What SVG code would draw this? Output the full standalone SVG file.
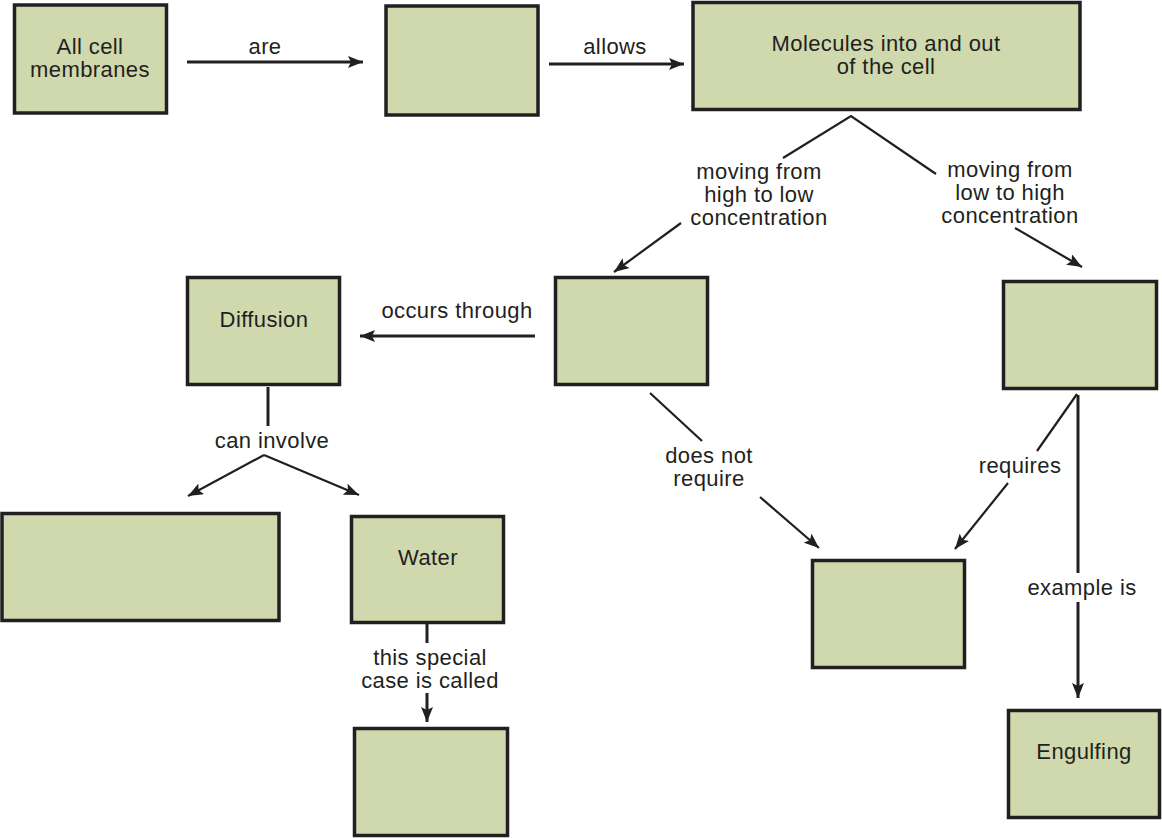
<svg xmlns="http://www.w3.org/2000/svg" width="1162" height="838" viewBox="0 0 1162 838">
<defs>
<style>
.box{fill:#d0d9ad;stroke:#231f20;stroke-width:3.5}
.t{font-family:"Liberation Sans",Arial,sans-serif;font-size:22px;letter-spacing:0.4px;fill:#231f20;text-anchor:middle}
.c{stroke:#231f20;stroke-width:2.2;fill:none}
.c3{stroke:#231f20;stroke-width:3;fill:none}
</style>
<marker id="ah" markerUnits="userSpaceOnUse" markerWidth="16" markerHeight="12" refX="15" refY="6" orient="auto">
<path d="M0,0 L15,6 L0,12 L3,6 z" fill="#231f20"/>
</marker>
</defs>
<rect width="1162" height="838" fill="#fff"/>
<g id="connectors">
<line class="c3" x1="187" y1="62" x2="363" y2="62" marker-end="url(#ah)"/>
<line class="c3" x1="549" y1="64" x2="684" y2="64" marker-end="url(#ah)"/>
<polyline class="c" points="783,158 851,116 936,174"/>
<line class="c" x1="681" y1="223" x2="614" y2="272" marker-end="url(#ah)"/>
<line class="c" x1="1015" y1="228" x2="1082" y2="267" marker-end="url(#ah)"/>
<line class="c3" x1="535" y1="336" x2="360" y2="336" marker-end="url(#ah)"/>
<line class="c3" x1="268" y1="387" x2="268" y2="426"/>
<line class="c" x1="264" y1="455" x2="188" y2="496" marker-end="url(#ah)"/>
<line class="c" x1="264" y1="455" x2="359" y2="495" marker-end="url(#ah)"/>
<line class="c3" x1="427" y1="622" x2="427" y2="643"/>
<line class="c3" x1="427" y1="693" x2="427" y2="722" marker-end="url(#ah)"/>
<line class="c" x1="650" y1="393" x2="702" y2="441"/>
<line class="c" x1="760" y1="497" x2="819" y2="548" marker-end="url(#ah)"/>
<line class="c" x1="1077" y1="394" x2="1037" y2="451"/>
<line class="c" x1="1008" y1="483" x2="955" y2="549" marker-end="url(#ah)"/>
<line class="c3" x1="1078" y1="395" x2="1078" y2="573"/>
<line class="c3" x1="1078" y1="602" x2="1078" y2="698" marker-end="url(#ah)"/>
</g>
<g id="labels">
<text class="t" x="265" y="54">are</text>
<text class="t" x="615" y="54">allows</text>
<text class="t" x="759" y="179">moving from</text>
<text class="t" x="759" y="202">high to low</text>
<text class="t" x="759" y="225">concentration</text>
<text class="t" x="1010" y="177">moving from</text>
<text class="t" x="1010" y="200">low to high</text>
<text class="t" x="1010" y="223">concentration</text>
<text class="t" x="457" y="318">occurs through</text>
<text class="t" x="272" y="448">can involve</text>
<text class="t" x="430" y="665">this special</text>
<text class="t" x="430" y="688">case is called</text>
<text class="t" x="709" y="463">does not</text>
<text class="t" x="709" y="486">require</text>
<text class="t" x="1020" y="473">requires</text>
<text class="t" x="1082" y="595">example is</text>
</g>
<g id="n-all-cell-membranes">
<rect class="box" x="14.5" y="5" width="152" height="108"/>
<text class="t" x="90" y="54">All cell</text>
<text class="t" x="90" y="77">membranes</text>
</g>
<g id="n-blank1">
<rect class="box" x="386" y="6" width="152" height="109"/>
</g>
<g id="n-molecules">
<rect class="box" x="693" y="2.5" width="387" height="107"/>
<text class="t" x="886" y="51">Molecules into and out</text>
<text class="t" x="886" y="74">of the cell</text>
</g>
<g id="n-blank-passive">
<rect class="box" x="555.5" y="277.5" width="152" height="107"/>
</g>
<g id="n-blank-active">
<rect class="box" x="1003.5" y="281.5" width="153" height="107"/>
</g>
<g id="n-diffusion">
<rect class="box" x="187.5" y="277.5" width="152" height="107"/>
<text class="t" x="264" y="327">Diffusion</text>
</g>
<g id="n-blank-wide">
<rect class="box" x="2" y="513.5" width="277" height="107"/>
</g>
<g id="n-water">
<rect class="box" x="351.5" y="516.5" width="152" height="106"/>
<text class="t" x="428" y="565">Water</text>
</g>
<g id="n-blank-osmosis">
<rect class="box" x="354.5" y="728.5" width="153" height="107"/>
</g>
<g id="n-blank-energy">
<rect class="box" x="812.5" y="560.5" width="152" height="107"/>
</g>
<g id="n-engulfing">
<rect class="box" x="1008.5" y="710.5" width="151" height="107"/>
<text class="t" x="1084" y="759">Engulfing</text>
</g>
</svg>
